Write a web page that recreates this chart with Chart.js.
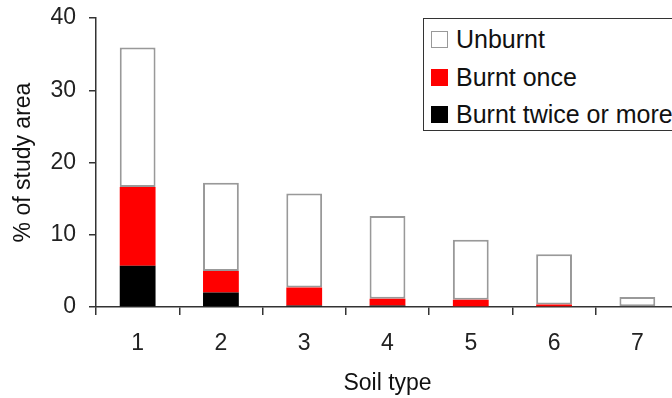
<!DOCTYPE html>
<html lang="en">
<head>
  <meta charset="UTF-8">
  <title>Soil type burnt area</title>
  <script src="https://cdn.jsdelivr.net/npm/chart.js"></script>
  <style>
    html, body { margin: 0; padding: 0; overflow: hidden; background: #fff; }
    .wrap { position: relative; width: 684px; height: 398px; }
    .legend {
      position: absolute; left: 423px; top: 18px; width: 400px; height: 113px;
      border: 1.5px solid #333; background: #fff; box-sizing: border-box;
      font-family: "Liberation Sans", Arial, sans-serif; font-size: 25px; color: #111;
      padding-top: 2px; white-space: nowrap;
    }
    .legend .row { height: 37.5px; display: flex; align-items: center; padding-left: 7px; }
    .legend .sw { width: 17px; height: 17px; box-sizing: border-box; margin-right: 8px; flex: none; }
  </style>
</head>
<body>
  <div class="wrap">
    <canvas id="soilChart" width="684" height="398"></canvas>
    <div class="legend" id="legend"></div>
  </div>

  <script>
    // values (% of study area)
    const soilTypes = ['1', '2', '3', '4', '5', '6', '7'];
    const burntTwice = [5.7, 2.0, 0.2, 0.2, 0, 0, 0];
    const burntOnce = [10.9, 3.0, 2.5, 0.95, 1.0, 0.35, 0];
    const unburnt = [19.3, 12.2, 13.0, 11.45, 8.3, 6.95, 1.4];
    const yTicks = [0, 10, 20, 30, 40];

    const font = { family: '"Liberation Sans", Arial, sans-serif', size: 23 };
    const axisColor = '#333';

    const datasets = [
      { label: 'Burnt twice or more', data: burntTwice, backgroundColor: '#000', borderWidth: 0 },
      { label: 'Burnt once', data: burntOnce, backgroundColor: '#ff0000', borderWidth: 0 },
      { label: 'Unburnt', data: unburnt, backgroundColor: '#fff', borderColor: '#999', borderWidth: 2, borderSkipped: false }
    ];

    new Chart(document.getElementById('soilChart'), {
      type: 'bar',
      data: { labels: soilTypes, datasets: datasets },
      options: {
        responsive: false,
        animation: false,
        layout: { padding: { top: 18, right: 5, left: 0, bottom: 0 } },
        plugins: { legend: { display: false }, tooltip: { enabled: false } },
        datasets: { bar: { categoryPercentage: 1, barPercentage: 0.43 } },
        scales: {
          x: {
            stacked: true,
            afterFit: function(scale) {
              scale.height = 91;
              scale.paddingLeft = 0;
              scale.paddingRight = 0;
            },
            border: { color: axisColor, width: 1.5 },
            grid: { offset: true, drawOnChartArea: false, color: axisColor, lineWidth: 1.5, tickLength: 8 },
            ticks: { color: '#222', font: font, padding: 15 },
            title: { display: true, text: 'Soil type', color: '#111', font: font, padding: { top: 0, bottom: 1 } }
          },
          y: {
            stacked: true,
            min: 0,
            max: 40,
            afterFit: function(scale) {
              scale.width = 96;
              scale.paddingTop = 0;
              scale.paddingBottom = 0;
            },
            afterBuildTicks: function(scale) { scale.ticks = yTicks.map(v => ({ value: v })); },
            border: { color: axisColor, width: 1.5 },
            grid: { drawOnChartArea: false, color: axisColor, lineWidth: 1.5, tickLength: 7 },
            ticks: { color: '#222', font: font, padding: 13 },
            title: { display: true, text: '% of study area', color: '#111', font: font, padding: { top: 10, bottom: 0 } }
          }
        }
      }
    });

    // legend box, same order as the figure
    const legend = document.getElementById('legend');
    datasets.slice().reverse().forEach(function(ds) {
      const row = document.createElement('div');
      row.className = 'row';
      const sw = document.createElement('span');
      sw.className = 'sw';
      sw.style.background = ds.backgroundColor;
      if (ds.borderWidth) sw.style.border = '1.5px solid ' + ds.borderColor;
      row.appendChild(sw);
      row.appendChild(document.createTextNode(ds.label));
      legend.appendChild(row);
    });
  </script>
</body>
</html>
